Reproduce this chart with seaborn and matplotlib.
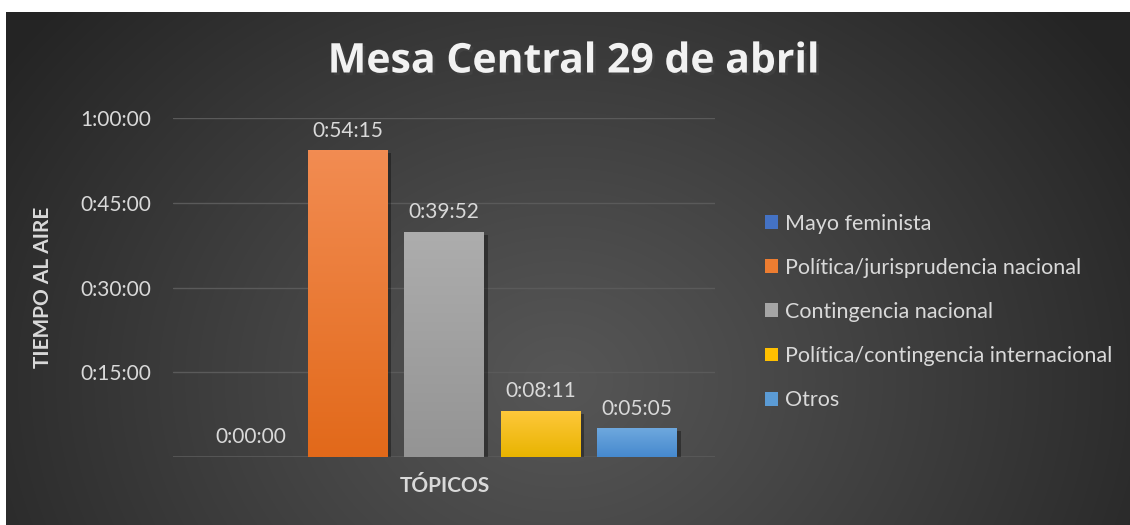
import numpy as np
import pandas as pd
import matplotlib
matplotlib.use("Agg")
import matplotlib.pyplot as plt
import matplotlib.patheffects as pe
from matplotlib.patches import Patch
import seaborn as sns

# ---- data ----
topics = ["Mayo feminista", "Política/jurisprudencia nacional", "Contingencia nacional",
          "Política/contingencia internacional", "Otros"]
seconds = [0, 54 * 60 + 15, 39 * 60 + 52, 8 * 60 + 11, 5 * 60 + 5]
colors = ["#4472C4", "#ED7D31", "#A5A5A5", "#FFC000", "#5B9BD5"]
grad_top = ["#5A86D0", "#F28C52", "#ADADAD", "#FFC83C", "#6EA8DE"]
grad_bot = ["#3C65B5", "#E2691A", "#949494", "#E8B400", "#4689CE"]
yticks = [900, 1800, 2700, 3600]
title = "Mesa Central 29 de abril"
ylabel = "TIEMPO AL AIRE"
xlabel = "TÓPICOS"


def hms(s):
    s = int(round(s))
    return f"{s // 3600}:{(s % 3600) // 60:02d}:{s % 60:02d}"


sns.set_theme(style="dark")
plt.rcParams["font.family"] = ["Lato", "DejaVu Sans"]

W, H = 1130, 525
fig = plt.figure(figsize=(W / 100, H / 100), dpi=100, facecolor="white")

# background panel with radial gradient
bg = fig.add_axes([0, 0, 1, 1], zorder=-10)
yy, xx = np.mgrid[0:H, 0:W]
cx, cy = 560, 380
r = np.sqrt((xx - cx) ** 2 + ((yy - cy) * 1.2) ** 2)
t = np.clip(r / 680, 0, 1) ** 1.1
c0 = np.array([0x56, 0x56, 0x56]) / 255
c1 = np.array([0x24, 0x24, 0x24]) / 255
img = c0[None, None, :] * (1 - t[..., None]) + c1[None, None, :] * t[..., None]
mask = (xx < 6) | (yy < 12)
img[mask] = 1.0
bg.imshow(img, aspect="auto", extent=[0, W, H, 0], interpolation="bilinear")
bg.set_xlim(0, W)
bg.set_ylim(H, 0)
bg.axis("off")

L, R, B, T = 173, 715, 457, 118
ax = fig.add_axes([L / W, 1 - B / H, (R - L) / W, (B - T) / H])
ax.set_facecolor("none")

df = pd.DataFrame({"topic": topics, "sec": seconds})
sns.barplot(data=df, x="topic", y="sec", hue="topic", palette=colors, order=topics,
            hue_order=topics, width=0.82, dodge=False, legend=False, ax=ax,
            saturation=1, linewidth=0, edgecolor="none")

ax.set_xlim(-0.81, 4.81)
ax.set_ylim(0, 3600)

# gradient fills for bars
for p, ct, cb in zip(ax.patches, grad_top, grad_bot):
    p.set_linewidth(0)
    x0, y0 = p.get_x(), p.get_y()
    w, h = p.get_width(), p.get_height()
    if h <= 0:
        p.set_visible(False)
        continue
    top = np.array(matplotlib.colors.to_rgb(ct))
    bot = np.array(matplotlib.colors.to_rgb(cb))
    g = np.linspace(0, 1, 100)[:, None]
    grad = top[None, :] * (1 - g) + bot[None, :] * g
    grad = np.repeat(grad[:, None, :], 2, axis=1)
    im = ax.imshow(grad, extent=[x0, x0 + w, y0, y0 + h], aspect="auto",
                   zorder=p.get_zorder() + 0.1, interpolation="bilinear")
    im.set_clip_path(p)
    p.set_path_effects([pe.SimplePatchShadow(offset=(3, -2), alpha=0.35, shadow_rgbFace="black"),
                        pe.Normal()])
ax.set_xlim(-0.81, 4.81)
ax.set_ylim(0, 3600)

# grid
ax.set_yticks(yticks)
ax.set_yticklabels([hms(v) for v in yticks])
ax.yaxis.grid(True, color="#5a5a5a", linewidth=1)
ax.set_axisbelow(True)
ax.axhline(0, color="#5a5a5a", linewidth=1.2, zorder=0.5)
ax.set_xticks([])
for s in ax.spines.values():
    s.set_visible(False)
ax.tick_params(axis="y", length=0, pad=16, labelsize=15, labelcolor="#d9d9d9")

# data labels
for p, v in zip(ax.patches, seconds):
    ax.annotate(hms(v), (p.get_x() + p.get_width() / 2, p.get_height()),
                xytext=(0, 7), textcoords="offset points", ha="center", va="bottom",
                fontsize=15, color="#d9d9d9")

ax.set_ylabel(ylabel, fontsize=15, fontweight="bold", color="#d9d9d9")
ax.yaxis.set_label_coords(-0.222, 0.5)
ax.set_xlabel(xlabel, fontsize=15, fontweight="bold", color="#d9d9d9")
ax.xaxis.set_label_coords(0.502, -0.055)

fig.text(574 / W, 1 - 62 / H, title, ha="center", va="center", fontsize=29.5,
         fontweight="bold", color="#f2f2f2", family=["Open Sans", "DejaVu Sans"],
         path_effects=[pe.withSimplePatchShadow(offset=(2, -2), alpha=0.5)])

handles = [Patch(facecolor=c, edgecolor="none") for c in colors]
leg = fig.legend(handles, topics, loc="upper left", bbox_to_anchor=(754 / W, 1 - 203 / H),
                 frameon=False, fontsize=15.5, handlelength=0.62, handleheight=0.62,
                 handletextpad=0.3, labelspacing=1.12, borderpad=0)
for txt in leg.get_texts():
    txt.set_color("#d9d9d9")

fig.savefig("out.png", dpi=100, facecolor="white")
